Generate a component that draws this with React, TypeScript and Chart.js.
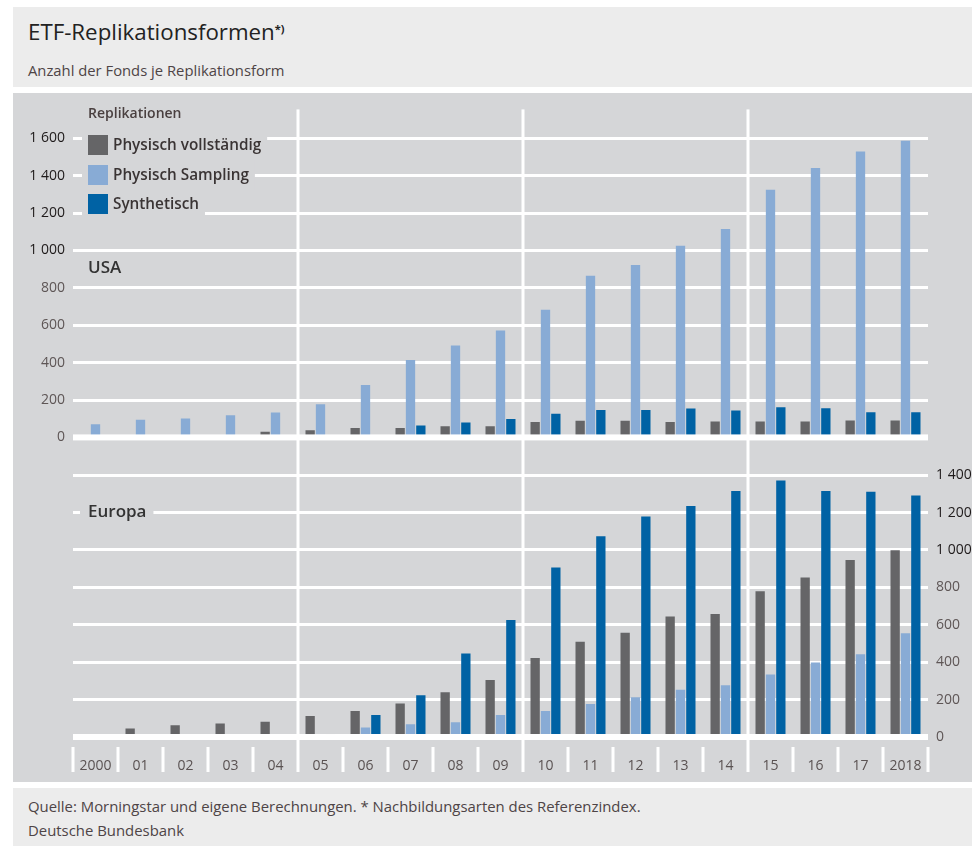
import React, { useEffect, useRef } from 'react';
import { Chart, registerables } from 'chart.js';

Chart.register(...registerables);

// ---------- data ----------
const categories = ['2000', '01', '02', '03', '04', '05', '06', '07', '08', '09', '10', '11', '12', '13', '14', '15', '16', '17', '2018'];

const usaFull = [0, 0, 0, 0, 30, 38, 50, 50, 60, 60, 82, 89, 89, 82, 85, 85, 85, 91, 91];
const usaSampling = [71, 94, 101, 118, 133, 177, 280, 414, 492, 572, 683, 865, 922, 1025, 1115, 1325, 1440, 1529, 1586];
const usaSynth = [0, 0, 0, 0, 0, 0, 4, 64, 80, 99, 126, 147, 147, 154, 144, 161, 156, 135, 135];

const euFull = [5, 45, 63, 72, 81, 112, 139, 179, 239, 305, 423, 510, 558, 644, 658, 779, 853, 947, 999];
const euSampling = [3, 3, 3, 4, 0, 3, 51, 68, 79, 118, 139, 177, 212, 253, 277, 334, 398, 442, 555];
const euSynth = [3, 5, 10, 0, 0, 15, 118, 223, 446, 626, 907, 1073, 1179, 1235, 1315, 1371, 1315, 1311, 1292];

const usaTicks = [0, 200, 400, 600, 800, 1000, 1200, 1400, 1600];
const euTicks = [0, 200, 400, 600, 800, 1000, 1200, 1400];

const seriesNames = ['Physisch vollständig', 'Physisch Sampling', 'Synthetisch'];
const legendTitle = 'Replikationen';
const panelNames = ['USA', 'Europa'];

// ---------- styles ----------
const FONT = '"Open Sans", "Noto Sans", sans-serif';
const C_GRAY = '#656567';
const C_LIGHT = '#88abd5';
const C_DARK = '#0062a4';
const BG_CHART = '#d5d6d8';
const BG_BOX = '#ececec';

const fmt = (v: number) => (v >= 1000 ? `${Math.floor(v / 1000)} ${String(v % 1000).padStart(3, '0')}` : String(v));

export default function App() {
  const ref = useRef<HTMLCanvasElement>(null);

  useEffect(() => {
    if (!ref.current) return;

    const overlay = {
      id: 'overlay',
      afterDraw(chart: any) {
        const ctx = chart.ctx;
        const { left, right, top, bottom } = chart.chartArea;
        const xs = chart.scales.x;
        const yL = chart.scales.yL;
        const yR = chart.scales.yR;
        const n = categories.length;
        const cw = (right - left) / n;
        ctx.save();
        ctx.fillStyle = '#ffffff';
        // zero bands
        const z1 = yL.getPixelForValue(0);
        ctx.fillRect(left, z1 - 3, right - left, 6);
        const z2 = yR.getPixelForValue(0);
        ctx.fillRect(left, z2 - 3, right - left, 6);
        // category separators
        for (let i = 0; i <= n; i++) {
          const bx = i < n ? xs.getPixelForValue(i) - cw / 2 : xs.getPixelForValue(n - 1) + cw / 2;
          const long = i % 5 === 0 && i > 0 && i < n;
          const y0 = long ? top : bottom + 7;
          ctx.fillRect(Math.round(bx) - 1.5, y0, 3, bottom + 32 - y0);
        }

        // legend
        ctx.textBaseline = 'middle';
        ctx.textAlign = 'left';
        ctx.font = `600 14px ${FONT}`;
        ctx.fillStyle = '#4a4040';
        ctx.fillText(legendTitle, left + 15, 21);
        const colors = [C_GRAY, C_LIGHT, C_DARK];
        const rows = [52, 82, 111];
        ctx.font = `600 15.3px ${FONT}`;
        seriesNames.forEach((name, i) => {
          const w = ctx.measureText(name).width;
          ctx.fillStyle = BG_CHART;
          ctx.fillRect(left + 9, rows[i] - 15, 40 + w + 6 - 9, 30);
          ctx.fillStyle = colors[i];
          ctx.fillRect(left + 15, rows[i] - 10, 20, 20);
          ctx.fillStyle = '#3a3434';
          ctx.fillText(name, left + 40, rows[i] + 1);
        });

        // panel labels
        ctx.font = `600 17px ${FONT}`;
        ctx.fillStyle = '#333';
        ctx.fillText(panelNames[0], left + 15, 175);
        const ew = ctx.measureText(panelNames[1]).width;
        ctx.fillStyle = BG_CHART;
        ctx.fillRect(left + 7, 407, ew + 15, 24);
        ctx.fillStyle = '#333';
        ctx.fillText(panelNames[1], left + 15, 419);
        ctx.restore();
      },
    };

    const tickColor = (ctx: any) => (ctx.tick && ctx.tick.value >= 1000 ? '#1e1a1a' : '#5e5656');
    const gridWidth = (ctx: any) => (ctx.tick && ctx.tick.value === 0 ? 0 : 3);

    const chart = new Chart(ref.current, {
      type: 'bar',
      data: {
        labels: categories,
        datasets: [
          { label: seriesNames[0], data: usaFull, backgroundColor: C_GRAY, yAxisID: 'yL', stack: 'g' },
          { label: seriesNames[1], data: usaSampling, backgroundColor: C_LIGHT, yAxisID: 'yL', stack: 'l' },
          { label: seriesNames[2], data: usaSynth, backgroundColor: C_DARK, yAxisID: 'yL', stack: 'd' },
          { label: seriesNames[0] + ' EU', data: euFull, backgroundColor: C_GRAY, yAxisID: 'yR', stack: 'g' },
          { label: seriesNames[1] + ' EU', data: euSampling, backgroundColor: C_LIGHT, yAxisID: 'yR', stack: 'l' },
          { label: seriesNames[2] + ' EU', data: euSynth, backgroundColor: C_DARK, yAxisID: 'yR', stack: 'd' },
        ],
      },
      options: {
        animation: false,
        responsive: false,
        maintainAspectRatio: false,
        categoryPercentage: 0.69,
        barPercentage: 0.9,
        layout: { padding: { top: 12, left: 0, right: 0, bottom: 0 } },
        plugins: { legend: { display: false }, tooltip: { enabled: false }, title: { display: false } },
        scales: {
          x: {
            type: 'category',
            offset: true,
            grid: { display: false, drawTicks: false },
            border: { display: false },
            ticks: {
              color: '#5a5252',
              font: { family: FONT, size: 14 },
              padding: 18,
              maxRotation: 0,
              autoSkip: false,
            },
            afterFit: (s: any) => {
              s.height = 42;
            },
          },
          yL: {
            type: 'linear',
            position: 'left',
            min: -1618,
            max: 1754,
            afterBuildTicks: (s: any) => {
              s.ticks = usaTicks.map((v) => ({ value: v }));
            },
            afterFit: (s: any) => {
              s.width = 60;
            },
            grid: { color: '#ffffff', lineWidth: gridWidth, drawTicks: false },
            border: { display: false },
            ticks: {
              color: tickColor,
              font: { family: FONT, size: 14 },
              padding: 8,
              callback: (v: any) => fmt(Number(v)),
            },
          },
          yR: {
            type: 'linear',
            position: 'right',
            min: -16,
            max: 3356,
            afterBuildTicks: (s: any) => {
              s.ticks = euTicks.map((v) => ({ value: v }));
            },
            afterFit: (s: any) => {
              s.width = 44;
            },
            grid: { color: '#ffffff', lineWidth: gridWidth, drawTicks: false },
            border: { display: false },
            ticks: {
              color: tickColor,
              font: { family: FONT, size: 14 },
              padding: 8,
              callback: (v: any) => fmt(Number(v)),
            },
          },
        },
      },
      plugins: [overlay],
    } as any);

    return () => chart.destroy();
  }, []);

  const box: React.CSSProperties = { position: 'absolute', left: 13, width: 959, background: BG_BOX };
  const txt: React.CSSProperties = { position: 'absolute', left: 15, whiteSpace: 'nowrap', fontFamily: FONT };

  return (
    <div style={{ position: 'fixed', left: 0, top: 0, width: 972, height: 846, background: '#ffffff', overflow: 'hidden' }}>
      <div style={{ ...box, top: 7, height: 80 }}>
        <div style={{ ...txt, top: 10, fontSize: 22.3, lineHeight: '30px', color: '#222' }}>
          ETF-Replikationsformen<sup style={{ fontSize: 11, fontWeight: 700, verticalAlign: 'top', position: 'relative', top: -3 }}>*)</sup>
        </div>
        <div style={{ ...txt, top: 53, fontSize: 14.8, lineHeight: '20px', color: '#4e4446' }}>Anzahl der Fonds je Replikationsform</div>
      </div>
      <div style={{ position: 'absolute', left: 13, top: 93, width: 959, height: 689, background: BG_CHART }}>
        <canvas ref={ref} width={959} height={689} style={{ display: 'block', width: 959, height: 689 }} />
      </div>
      <div style={{ ...box, top: 788, height: 58 }}>
        <div style={{ ...txt, top: 8, fontSize: 14.9, lineHeight: '20px', color: '#4e4446' }}>
          Quelle: Morningstar und eigene Berechnungen. * Nachbildungsarten des Referenzindex.
        </div>
        <div style={{ ...txt, top: 32, fontSize: 14.9, lineHeight: '20px', color: '#4e4446' }}>Deutsche Bundesbank</div>
      </div>
    </div>
  );
}
